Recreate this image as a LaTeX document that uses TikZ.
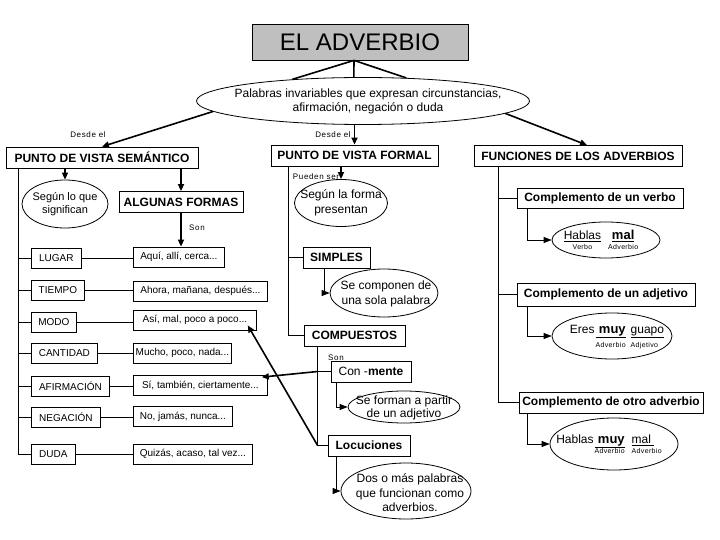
\documentclass[tikz,border=0pt]{standalone}
\usepackage{fontspec}
\setmainfont{Liberation Sans}
\newfontfamily\spc{Liberation Sans}[LetterSpace=8]
\newfontfamily\spcs{Liberation Sans}[LetterSpace=5]
\usetikzlibrary{shapes.geometric,arrows.meta}
\newcommand\smlab[1]{{\spcs\fontsize{7}{8}\selectfont #1}}
\begin{document}
\begin{tikzpicture}[x=1pt,y=-1pt,
  ln/.style={line width=0.8pt},
  box/.style={draw,line width=0.8pt,rectangle,inner sep=0pt,minimum height=20pt},
  hbox/.style={box,minimum height=21pt,font=\fontsize{12}{14}\selectfont\bfseries},
  lbox/.style={box,anchor=west,font=\fontsize{10}{12}\selectfont},
  ellb/.style={draw,line width=0.8pt,ellipse,inner sep=0pt},
  etxt/.style={inner sep=0pt,align=center,font=\fontsize{12}{15}\selectfont},
  lab/.style={font=\spc\fontsize{8}{9}\selectfont,inner sep=0pt},
  arr/.style={line width=1.6pt,-{Triangle[length=7pt,width=6pt]}},
  larr/.style={line width=0.8pt,-{Triangle[length=8pt,width=6pt]}},
  thk/.style={line width=1.6pt},
]
\path[use as bounding box,fill=white] (0,0) rectangle (720,540);

% title and definition
\node[box,fill=gray!50,minimum width=216pt,minimum height=36pt,font=\fontsize{24}{28}\selectfont] (title) at (360,42) {EL ADVERBIO};
\node[ellb,minimum width=333pt,minimum height=47pt] (def) at (363,101) {};
\node[etxt,font=\fontsize{12}{14}\selectfont] (deft) at (368,101) {Palabras invariables que expresan circunstancias,\\afirmación, negación o duda};

% main headings
\node[hbox,minimum width=192pt] (sem) at (102,157.5) {PUNTO DE VISTA SEMÁNTICO};
\node[hbox,minimum width=167pt] (frm) at (354.5,155.5) {PUNTO DE VISTA FORMAL};
\node[hbox,minimum width=208pt] (fun) at (578,156) {FUNCIONES DE LOS ADVERBIOS};

% semantic side
\node[ellb,minimum width=86pt,minimum height=48pt] (ss) at (65,204) {};
\node[etxt,font=\fontsize{11}{13}\selectfont] (sst) at (65,204) {Según lo que\\significan};
\node[hbox,minimum width=124pt] (alg) at (181,202) {ALGUNAS FORMAS};

\node[lbox,minimum width=50pt] (lugar) at (31,258) {LUGAR};
\node[lbox,minimum width=53pt] (tiempo) at (31,290) {TIEMPO};
\node[lbox,minimum width=45pt] (modo) at (31,322) {MODO};
\node[lbox,minimum width=66pt] (cantidad) at (31,353) {CANTIDAD};
\node[lbox,minimum width=78pt] (afirm) at (31,386) {AFIRMACIÓN};
\node[lbox,minimum width=69pt] (neg) at (31,417) {NEGACIÓN};
\node[lbox,minimum width=44pt] (duda) at (31,454.5) {DUDA};

\node[lbox,minimum width=91pt] (aqui) at (133,257) {Aquí, allí, cerca...};
\node[lbox,minimum width=134pt] (ahora) at (133,291) {Ahora, mañana, después...};
\node[lbox,minimum width=123pt] (asi) at (133,320) {Así, mal, poco a poco...};
\node[lbox,minimum width=98pt] (mucho) at (133,353) {Mucho, poco, nada...};
\node[lbox,minimum width=134pt] (si) at (133,385.5) {Sí, también, ciertamente...};
\node[lbox,minimum width=99pt] (no) at (133,416.5) {No, jamás, nunca...};
\node[lbox,minimum width=119pt] (quizas) at (133,454) {Quizás, acaso, tal vez...};

% formal side
\node[ellb,minimum width=93pt,minimum height=47pt] (sf) at (341,203) {};
\node[etxt] (sft) at (341,203) {Según la forma\\presentan};
\node[hbox,minimum width=67pt] (simp) at (336.5,257.5) {SIMPLES};
\node[ellb,minimum width=108pt,minimum height=48pt] (sc) at (384,293) {};
\node[etxt] (sct) at (386,294) {Se componen de\\una sola palabra};
\node[hbox,minimum width=101pt] (comp) at (354.5,335.5) {COMPUESTOS};
\node[box,minimum width=80pt,minimum height=21pt,font=\fontsize{12}{14}\selectfont] (conm) at (371,371.5) {Con -\textbf{mente}};
\node[ellb,minimum width=112pt,minimum height=32pt] (sfa) at (404,407) {};
\node[etxt,font=\fontsize{12}{12.5}\selectfont] (sfat) at (404,408) {Se forman a partir\\de un adjetivo};
\node[hbox,minimum width=82pt] (loc) at (369,445.5) {Locuciones};
\node[ellb,minimum width=130pt,minimum height=56pt] (dos) at (406,491) {};
\node[etxt,font=\fontsize{12}{14.5}\selectfont] (dost) at (410,493) {Dos o más palabras\\que funcionan como\\adverbios.};

% functions side
\node[hbox,minimum width=166pt,minimum height=20pt] (cv) at (600,198) {Complemento de un verbo};
\node[hbox,minimum width=178pt,minimum height=23pt] (ca) at (606,294.5) {Complemento de un adjetivo};
\node[hbox,minimum width=184pt] (co) at (611,402.5) {Complemento de otro adverbio};

\node[ellb,minimum width=108pt,minimum height=36pt] (e1) at (606,240) {};
\node[inner sep=0pt,font=\fontsize{12}{12}\selectfont] (e1t) at (601,242)
  {\begin{tabular}{@{}c@{\hspace{7pt}}c@{}}\underline{Hablas} & \underline{\fontsize{13}{13}\selectfont\bfseries mal}\\[-2pt]
   \smlab{Verbo} & \smlab{Adverbio}\end{tabular}};
\node[ellb,minimum width=120pt,minimum height=46pt] (e2) at (612,336) {};
\node[inner sep=0pt,font=\fontsize{12}{12}\selectfont] (e2t) at (617,338)
  {\begin{tabular}{@{}l@{\hspace{1pt}}c@{\hspace{5pt}}l@{}}Eres & \underline{\ \fontsize{13}{13}\selectfont\bfseries muy} & \underline{guapo}\\[2pt]
   & \smlab{Adverbio} & \smlab{Adjetivo}\end{tabular}};
\node[ellb,minimum width=128pt,minimum height=52pt] (e3) at (614,444) {};
\node[inner sep=0pt,font=\fontsize{12}{12}\selectfont] (e3t) at (609,446)
  {\begin{tabular}{@{}l@{\hspace{1pt}}c@{\hspace{7pt}}l@{}}Hablas & \underline{\ \fontsize{13}{13}\selectfont\bfseries muy} & \underline{mal\ }\\[-3pt]
   & \smlab{Adverbio} & \smlab{Adverbio}\end{tabular}};

% small labels
\node[lab] (l1) at (88,135) {Desde el};
\node[lab] (l2) at (333,135) {Desde el};
\node[lab] (l3) at (316,177) {Pueden ser};
\node[lab] (l4) at (197,228) {Son};
\node[lab] (l5) at (336,358) {Son};

% connectors: title -> definition
\coordinate (tj) at ([xshift=-6pt]title.south);
\draw[thk] (tj) -- (def.163);
\draw[thk] (tj) -- (def.111);
\draw[thk] (tj) -- (def.28);

% definition -> headings
\draw[arr] (def.184) -- (sem.north);
\draw[arr] (def.south -| frm.north) -- (frm.north);
\draw[arr] (def.-5) -- ([xshift=9pt]fun.north);

% semantic
\draw[arr] (sem.south -| ss.north) -- (ss.north);
\draw[arr] (sem.south -| alg.north) -- (alg.north);
\coordinate (ssp) at ([xshift=13pt]sem.south west);
\draw[ln] (ssp) |- (duda.west);
\foreach \n in {lugar,tiempo,modo,cantidad,afirm,neg}
  \draw[ln] (\n.west -| ssp) -- (\n.west);
\draw[arr] (alg.south) -- (alg.south |- aqui.north);
\draw[ln] (lugar.east) -- (lugar.east -| aqui.west);
\draw[ln] (tiempo.east) -- (tiempo.east -| ahora.west);
\draw[ln] (modo.east) -- (modo.east -| asi.west);
\draw[ln] (cantidad.east) -- (cantidad.east -| mucho.west);
\draw[ln] (afirm.east) -- (afirm.east -| si.west);
\draw[ln] (neg.east) -- (neg.east -| no.west);
\draw[ln] (duda.east) -- (duda.east -| quizas.west);

% formal
\draw[arr] (frm.south -| sf.north) -- (sf.north);
\coordinate (fsp) at ([xshift=18pt]frm.south west);
\draw[ln] (fsp) |- (comp.west);
\draw[ln] (simp.west -| fsp) -- (simp.west);
\draw[larr] ([xshift=22pt]simp.south west) |- (sc.west);
\coordinate (csp) at ([xshift=14pt]comp.south west);
\draw[ln] (csp) |- (loc.west);
\draw[ln] (conm.west -| csp) -- (conm.west);
\draw[arr] (conm.west -| csp) -- ([xshift=-6pt,yshift=-2pt]si.north east);
\draw[arr] (loc.west -| csp) -- ([xshift=-9pt,yshift=5pt]asi.south east);
\draw[larr] ([xshift=6pt]conm.south west) |- (sfa.west);
\draw[larr] ([xshift=9pt]loc.south west) |- (dos.west);

% functions
\coordinate (rsp) at ([xshift=25pt]fun.south west);
\draw[ln] (rsp) |- (co.west);
\draw[ln] (cv.west -| rsp) -- (cv.west);
\draw[ln] (ca.west -| rsp) -- (ca.west);
\draw[larr] ([xshift=11pt]cv.south west) |- (e1.west);
\draw[larr] ([xshift=11pt]ca.south west) |- (e2.west);
\draw[larr] ([xshift=9pt]co.south west) |- (e3.west);
\end{tikzpicture}
\end{document}
